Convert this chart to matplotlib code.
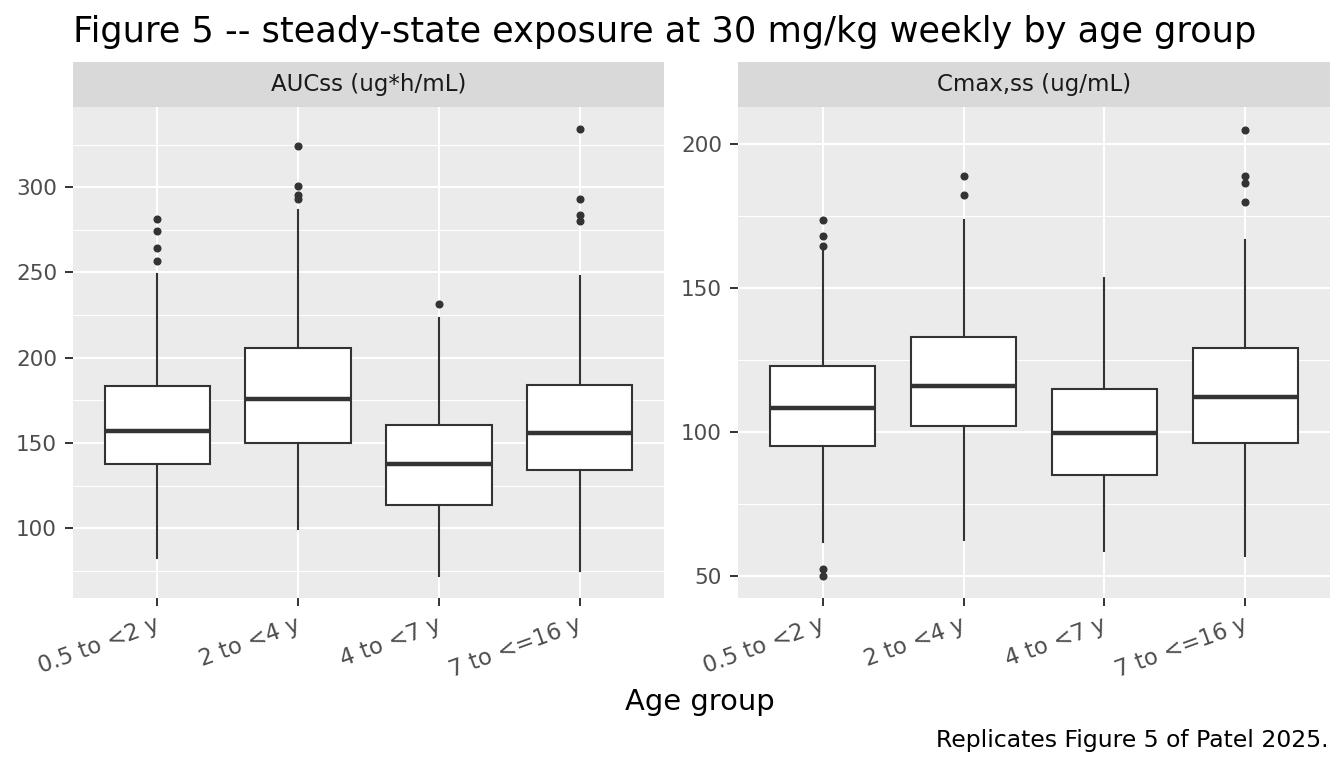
import matplotlib
matplotlib.use('Agg')
import matplotlib.pyplot as plt
import matplotlib.transforms as mtransforms
from matplotlib.ticker import MultipleLocator

# age groups on the x axis
groups = ['0.5 to <2 y', '2 to <4 y', '4 to <7 y', '7 to <=16 y']

# AUCss (ug*h/mL) box summaries
auc_q1 = [137.9, 149.8, 113.8, 134.0]
auc_med = [156.7, 176.0, 137.9, 155.7]
auc_q3 = [183.5, 205.6, 160.4, 183.9]
auc_lo = [82.5, 99.5, 72.1, 75.0]
auc_hi = [249.4, 286.4, 223.4, 247.8]
auc_out = [[256.7, 264.1, 274.1, 281.1],
           [293.2, 295.4, 300.9, 324.0],
           [231.6],
           [280.3, 283.9, 293.1, 334.0]]

# Cmax,ss (ug/mL)
cmax_q1 = [95.2, 102.1, 85.3, 96.4]
cmax_med = [108.5, 116.0, 99.8, 112.1]
cmax_q3 = [123.0, 133.0, 114.9, 129.4]
cmax_lo = [61.9, 62.8, 58.7, 57.1]
cmax_hi = [164.0, 173.8, 153.5, 166.7]
cmax_out = [[50.2, 52.7, 164.8, 168.1, 173.8],
            [182.4, 188.8],
            [],
            [180.1, 186.4, 188.8, 205.0]]

DARK = '#333333'
TICK_COL = '#4D4D4D'


def make_stats(q1, med, q3, lo, hi, out):
  stats = []
  for i in range(len(groups)):
    stats.append({'q1': q1[i], 'med': med[i], 'q3': q3[i],
                  'whislo': lo[i], 'whishi': hi[i], 'fliers': out[i]})
  return stats


def draw_panel(fig, rect, stats, strip_label, major, minor):
  ax = fig.add_axes(rect)
  ax.set_facecolor('#EBEBEB')
  pos = list(range(1, len(groups) + 1))
  ax.bxp(stats, positions=pos, widths=0.75, patch_artist=True,
         showcaps=False, zorder=3,
         boxprops=dict(facecolor='white', edgecolor=DARK, linewidth=1.5),
         medianprops=dict(color=DARK, linewidth=3.2, solid_capstyle='butt'),
         whiskerprops=dict(color=DARK, linewidth=1.5),
         flierprops=dict(marker='o', markersize=4.8, markerfacecolor=DARK,
                         markeredgecolor=DARK, linestyle='none'))
  ax.set_xlim(0.4, len(groups) + 0.6)
  ax.yaxis.set_major_locator(MultipleLocator(major))
  ax.yaxis.set_minor_locator(MultipleLocator(minor))
  ax.grid(True, which='major', color='white', linewidth=1.5, zorder=0)
  ax.grid(True, which='minor', axis='y', color='white', linewidth=0.75, zorder=0)
  ax.set_axisbelow(True)
  for s in ax.spines.values():
    s.set_visible(False)
  ax.set_xticks(pos)
  ax.tick_params(axis='x', which='major', length=5.5, width=1.4,
                 color=DARK, labelcolor=TICK_COL, pad=3)
  ax.tick_params(axis='y', which='major', length=5.5, width=1.4,
                 color=DARK, labelsize=15.5, labelcolor=TICK_COL, pad=6)
  ax.tick_params(axis='y', which='minor', length=0)
  ax.set_xticklabels(groups, rotation=20, ha='right', va='top',
                     fontsize=16.3, color=TICK_COL)
  # nudge the rotated labels a little right and down, like ggplot places them
  shift = mtransforms.ScaledTranslation(5 / 100, -3 / 100, fig.dpi_scale_trans)
  for lab in ax.get_xticklabels():
    lab.set_transform(lab.get_transform() + shift)
  # facet strip on top
  strip = fig.add_axes([rect[0], rect[1] + rect[3], rect[2], 45 / 768])
  strip.set_facecolor('#D9D9D9')
  strip.set_xticks([])
  strip.set_yticks([])
  for s in strip.spines.values():
    s.set_visible(False)
  strip.text(0.5, 0.5, strip_label, ha='center', va='center',
             fontsize=16.5, color='#1A1A1A', transform=strip.transAxes)
  return ax


fig = plt.figure(figsize=(13.44, 7.68), dpi=100)

W, H = 1344, 768
bottom = 1 - 598 / H
height = (598 - 107) / H

ax1 = draw_panel(fig, [73 / W, bottom, (664 - 73) / W, height],
                 make_stats(auc_q1, auc_med, auc_q3, auc_lo, auc_hi, auc_out),
                 'AUCss (ug*h/mL)', 50, 25)
ax1.set_ylim(59.0, 347.1)

ax2 = draw_panel(fig, [738 / W, bottom, (1330 - 738) / W, height],
                 make_stats(cmax_q1, cmax_med, cmax_q3, cmax_lo, cmax_hi, cmax_out),
                 'Cmax,ss (ug/mL)', 50, 25)
ax2.set_ylim(42.5, 212.9)

fig.text(73 / W, 1 - 32 / H, 'Figure 5 -- steady-state exposure at 30 mg/kg weekly by age group',
         ha='left', va='center', fontsize=25.3, color='black')
fig.text(700 / W, 1 - 702 / H, 'Age group', ha='center', va='center',
         fontsize=20.9, color='black')
fig.text(1328 / W, 1 - 740 / H, 'Replicates Figure 5 of Patel 2025.',
         ha='right', va='center', fontsize=16.9, color='black')

fig.savefig('out.png', dpi=100)
plt.close()
